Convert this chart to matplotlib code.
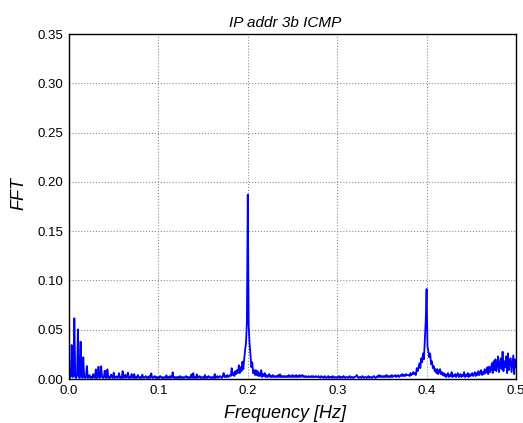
import numpy as np
import matplotlib
matplotlib.use("Agg")
import matplotlib.pyplot as plt

# --- dati (modulo FFT, passo 0.001 Hz) ---
FREQ_STEP = 0.001

fft_mag = [
    # 0.000 - 0.049
    0.002, 0.001, 0.003, 0.0345, 0.002, 0.003, 0.0616, 0.002, 0.001, 0.004,
    0.0504, 0.002, 0.001, 0.0379, 0.003, 0.001, 0.022, 0.002, 0.001, 0.002,
    0.0132, 0.001, 0.002, 0.004, 0.001, 0.002, 0.001, 0.005, 0.002, 0.001,
    0.0098, 0.001, 0.002, 0.0125, 0.001, 0.002, 0.013, 0.002, 0.001, 0.002,
    0.0085, 0.001, 0.002, 0.0098, 0.001, 0.002, 0.001, 0.0044, 0.002, 0.001,
    # 0.050 - 0.099
    0.0064, 0.001, 0.002, 0.0027, 0.001, 0.002, 0.006, 0.001, 0.002, 0.001,
    0.008, 0.001, 0.002, 0.0044, 0.001, 0.002, 0.0064, 0.001, 0.002, 0.001,
    0.005, 0.002, 0.001, 0.005, 0.001, 0.002, 0.001, 0.004, 0.002, 0.001,
    0.002, 0.001, 0.0044, 0.002, 0.001, 0.002, 0.003, 0.001, 0.002, 0.001,
    0.003, 0.001, 0.0057, 0.002, 0.001, 0.002, 0.003, 0.001, 0.002, 0.001,
    # 0.100 - 0.149
    0.002, 0.001, 0.003, 0.002, 0.001, 0.002, 0.001, 0.002, 0.001, 0.0037,
    0.001, 0.002, 0.001, 0.003, 0.001, 0.002, 0.0068, 0.001, 0.002, 0.001,
    0.002, 0.001, 0.002, 0.001, 0.003, 0.001, 0.002, 0.001, 0.002, 0.001,
    0.002, 0.003, 0.001, 0.002, 0.001, 0.002, 0.001, 0.0047, 0.001, 0.006,
    0.001, 0.002, 0.001, 0.0047, 0.001, 0.002, 0.003, 0.001, 0.002, 0.001,
    # 0.150 - 0.199
    0.002, 0.001, 0.004, 0.001, 0.002, 0.001, 0.003, 0.002, 0.001, 0.002,
    0.001, 0.002, 0.001, 0.005, 0.001, 0.002, 0.003, 0.001, 0.002, 0.003,
    0.002, 0.001, 0.003, 0.006, 0.002, 0.003, 0.002, 0.004, 0.002, 0.003,
    0.004, 0.003, 0.011, 0.004, 0.006, 0.003, 0.008, 0.005, 0.009, 0.006,
    0.014, 0.006, 0.012, 0.008, 0.0176, 0.010, 0.020, 0.030, 0.036, 0.058,
    # 0.200 - 0.249
    0.187, 0.055, 0.036, 0.025, 0.012, 0.017, 0.006, 0.009, 0.004, 0.009,
    0.004, 0.008, 0.003, 0.006, 0.003, 0.009, 0.002, 0.005, 0.003, 0.006,
    0.002, 0.004, 0.002, 0.003, 0.005, 0.002, 0.003, 0.002, 0.004, 0.002,
    0.003, 0.002, 0.003, 0.002, 0.004, 0.002, 0.0047, 0.002, 0.003, 0.002,
    0.003, 0.002, 0.003, 0.002, 0.003, 0.002, 0.004, 0.002, 0.003, 0.002,
    # 0.250 - 0.299
    0.004, 0.002, 0.003, 0.002, 0.004, 0.002, 0.003, 0.002, 0.004, 0.002,
    0.003, 0.004, 0.002, 0.003, 0.002, 0.003, 0.002, 0.002, 0.003, 0.002,
    0.002, 0.003, 0.002, 0.003, 0.002, 0.002, 0.003, 0.002, 0.002, 0.003,
    0.002, 0.001, 0.003, 0.002, 0.002, 0.001, 0.003, 0.002, 0.001, 0.002,
    0.003, 0.001, 0.002, 0.002, 0.001, 0.003, 0.002, 0.001, 0.002, 0.002,
    # 0.300 - 0.349
    0.001, 0.002, 0.003, 0.001, 0.002, 0.002, 0.001, 0.003, 0.002, 0.001,
    0.002, 0.002, 0.001, 0.002, 0.003, 0.001, 0.002, 0.002, 0.001, 0.002,
    0.002, 0.003, 0.004, 0.002, 0.001, 0.002, 0.002, 0.001, 0.003, 0.002,
    0.001, 0.002, 0.002, 0.001, 0.002, 0.003, 0.001, 0.002, 0.002, 0.001,
    0.002, 0.003, 0.002, 0.001, 0.002, 0.003, 0.002, 0.004, 0.002, 0.003,
    # 0.350 - 0.399
    0.002, 0.003, 0.002, 0.003, 0.002, 0.004, 0.002, 0.003, 0.002, 0.003,
    0.002, 0.004, 0.002, 0.003, 0.003, 0.004, 0.002, 0.003, 0.004, 0.002,
    0.003, 0.004, 0.003, 0.005, 0.003, 0.004, 0.003, 0.005, 0.004, 0.004,
    0.004, 0.003, 0.006, 0.004, 0.005, 0.007, 0.005, 0.006, 0.004, 0.011,
    0.008, 0.012, 0.016, 0.011, 0.021, 0.017, 0.026, 0.020, 0.040, 0.058,
    # 0.400 - 0.449
    0.0913, 0.033, 0.028, 0.022, 0.026, 0.015, 0.018, 0.011, 0.013, 0.008,
    0.010, 0.006, 0.010, 0.005, 0.008, 0.010, 0.005, 0.007, 0.004, 0.006,
    0.003, 0.005, 0.002, 0.004, 0.006, 0.002, 0.004, 0.003, 0.007, 0.002,
    0.004, 0.003, 0.005, 0.002, 0.004, 0.006, 0.002, 0.003, 0.005, 0.002,
    0.004, 0.003, 0.007, 0.002, 0.004, 0.003, 0.006, 0.002, 0.005, 0.003,
    # 0.450 - 0.500
    0.004, 0.006, 0.003, 0.005, 0.007, 0.003, 0.006, 0.004, 0.008, 0.004,
    0.006, 0.009, 0.004, 0.007, 0.005, 0.010, 0.006, 0.008, 0.012, 0.005,
    0.0125, 0.007, 0.010, 0.016, 0.006, 0.018, 0.009, 0.020, 0.008, 0.014,
    0.023, 0.007, 0.015, 0.021, 0.010, 0.0277, 0.008, 0.018, 0.012, 0.023,
    0.006, 0.026, 0.009, 0.019, 0.021, 0.007, 0.016, 0.024, 0.005, 0.020,
    0.012,
]

titolo = "IP addr 3b ICMP"
etichetta_x = "Frequency [Hz]"
etichetta_y = "FFT"

freq = np.arange(len(fft_mag)) * FREQ_STEP

# --- grafico ---
fig = plt.figure(figsize=(5.23, 4.23), dpi=100)
ax = fig.add_axes([0.1319, 0.104, 0.8547, 0.8156])

ax.plot(freq, fft_mag, color="#0000ff", linewidth=1.3)

ax.set_xlim(0, 0.5)
ax.set_ylim(0, 0.35)
ax.set_xticks(np.arange(0, 0.51, 0.1))
ax.set_yticks(np.arange(0, 0.351, 0.05))
ax.xaxis.set_major_formatter(matplotlib.ticker.FormatStrFormatter("%.1f"))
ax.yaxis.set_major_formatter(matplotlib.ticker.FormatStrFormatter("%.2f"))
ax.tick_params(length=0, labelsize=9.5, pad=4)
for lab in ax.get_xticklabels() + ax.get_yticklabels():
    lab.set_family("Liberation Sans")

ax.grid(True, color="0.55", linestyle=":", linewidth=0.8)
for s in ax.spines.values():
    s.set_linewidth(1.0)
    s.set_color("black")

font_lab = dict(family="Liberation Sans", style="italic")
ax.set_title(titolo, fontsize=11, pad=5, x=0.483, **font_lab)
ax.set_xlabel(etichetta_x, fontsize=13, labelpad=5, **font_lab)
ax.xaxis.set_label_coords(0.483, -0.075)
ax.set_ylabel(etichetta_y, fontsize=13, **font_lab)
ax.yaxis.set_label_coords(-0.092, 0.539)

fig.savefig("out.png", dpi=100)
